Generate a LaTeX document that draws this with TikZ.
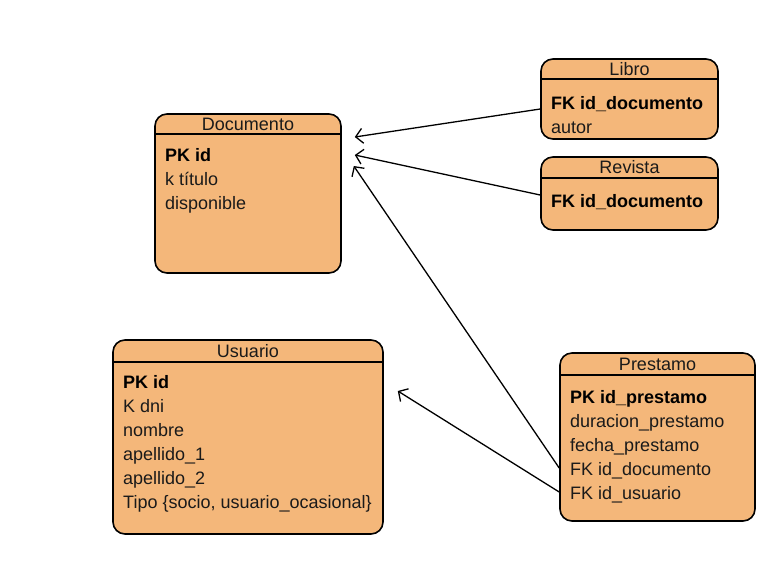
\documentclass[tikz,border=0pt]{standalone}
\usepackage{fontspec}
\setmainfont{Liberation Sans}
\usetikzlibrary{arrows.meta,calc}
\definecolor{boxfill}{RGB}{244,183,122}
\definecolor{txt}{RGB}{26,26,26}
\tikzset{
  entity/.style={draw=black, fill=boxfill, rounded corners=12pt, line width=1.6pt, inner sep=0pt},
  sep/.style={line width=1.5pt},
  ttl/.style={anchor=base, font=\fontsize{18}{21}\selectfont, text=txt, inner sep=0pt},
  fld/.style={anchor=base west, font=\fontsize{18}{21}\selectfont, text=txt, inner sep=0pt},
  key/.style={fld, font=\fontsize{18}{21}\selectfont\bfseries, text=black},
  rel/.style={draw=black, line width=1.3pt, -{Straight Barb[length=7pt,width=15pt]}}
}
\begin{document}
\begin{tikzpicture}[x=1pt,y=-1pt]
\useasboundingbox (0,0) rectangle (781,566);
% Documento
\node[entity, minimum width=186pt, minimum height=159pt] (doc) at (248,193.5) {};
\draw[sep] (155,134) -- (341,134);
\node[ttl] (doct) at (248,130.5) {Documento};
\node[key] (doc1) at (165,161.5) {PK id};
\node[fld] (doc2) at (165,185.5) {k título};
\node[fld] (doc3) at (165,209.5) {disponible};
% Libro
\node[entity, minimum width=177pt, minimum height=80pt] (lib) at (629.5,99) {};
\draw[sep] (541,79) -- (718,79);
\node[ttl] (libt) at (629.5,75.5) {Libro};
\node[key] (lib1) at (551,109.5) {FK id\_documento};
\node[fld] (lib2) at (551,133.5) {autor};
% Revista
\node[entity, minimum width=177pt, minimum height=73pt] (rev) at (629.5,193.5) {};
\draw[sep] (541,178) -- (718,178);
\node[ttl] (revt) at (629.5,173.5) {Revista};
\node[key] (rev1) at (551,207.5) {FK id\_documento};
% Usuario
\node[entity, minimum width=270pt, minimum height=194pt] (usu) at (248,437) {};
\draw[sep] (113,362) -- (383,362);
\node[ttl] (usut) at (248,357.5) {Usuario};
\node[key] (usu1) at (123,388.5) {PK id};
\node[fld] (usu2) at (123,412.5) {K dni};
\node[fld] (usu3) at (123,436.5) {nombre};
\node[fld] (usu4) at (123,460.5) {apellido\_1};
\node[fld] (usu5) at (123,484.5) {apellido\_2};
\node[fld] (usu6) at (123,508.5) {Tipo \{socio, usuario\_ocasional\}};
% Prestamo
\node[entity, minimum width=195pt, minimum height=168pt] (pre) at (657.5,437) {};
\draw[sep] (560,375) -- (755,375);
\node[ttl] (pret) at (657.5,370.5) {Prestamo};
\node[key] (pre1) at (570,403.5) {PK id\_prestamo};
\node[fld] (pre2) at (570,427.5) {duracion\_prestamo};
\node[fld] (pre3) at (570,451.5) {fecha\_prestamo};
\node[fld] (pre4) at (570,475.5) {FK id\_documento};
\node[fld] (pre5) at (570,499.5) {FK id\_usuario};
% connector end points
\coordinate (libA) at (lib.west |- 0,109);
\coordinate (revA) at (rev.west |- 0,195);
\coordinate (preA) at (pre.west |- 0,468);
\coordinate (preB) at (pre.west |- 0,492);
\coordinate (docA) at ([xshift=13pt]doc.east |- 0,137);
\coordinate (docB) at ([xshift=13pt]doc.east |- 0,155);
\coordinate (docC) at ([xshift=12pt]doc.east |- 0,166);
\coordinate (usuA) at ([xshift=14pt]usu.east |- 0,391);
\draw[rel] (libA) -- (docA);
\draw[rel] (revA) -- (docB);
\draw[rel] (preA) -- (docC);
\draw[rel] (preB) -- (usuA);
\end{tikzpicture}
\end{document}
